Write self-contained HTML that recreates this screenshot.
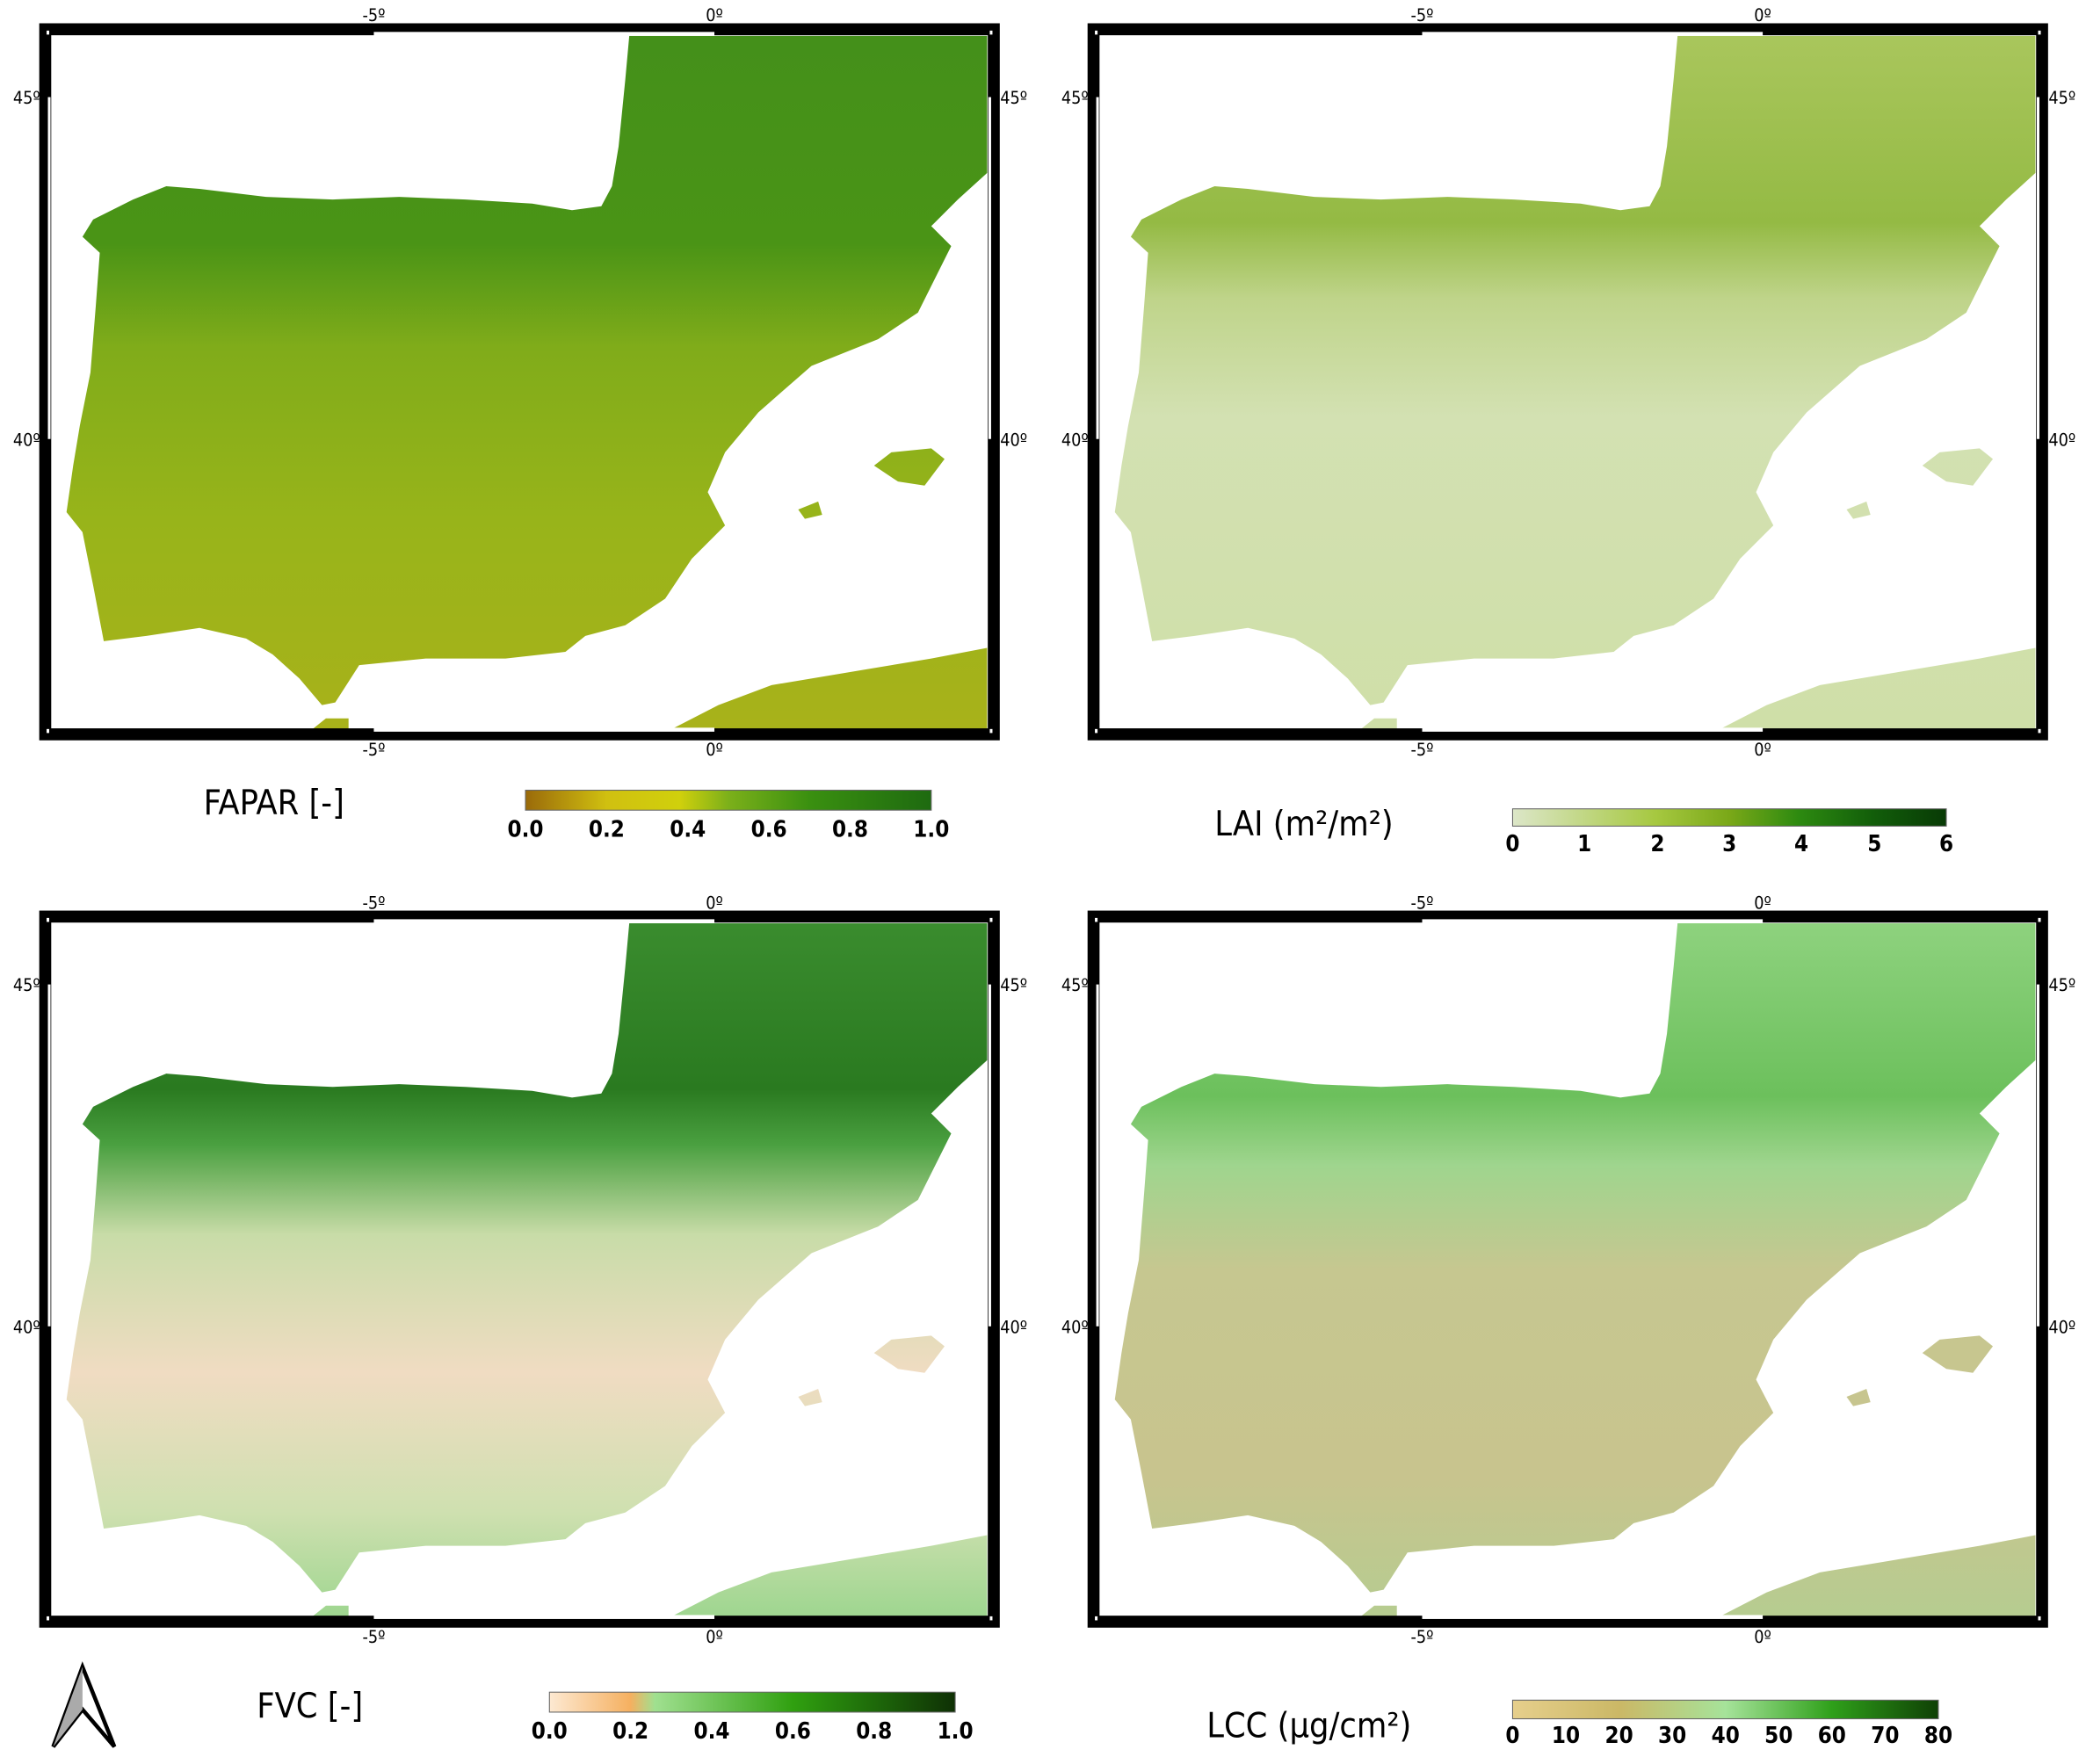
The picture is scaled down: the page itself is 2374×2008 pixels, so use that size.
<!DOCTYPE html>
<html><head><meta charset="utf-8"><style>html,body{margin:0;padding:0;background:#fff}svg{display:block}</style></head>
<body>
<svg xmlns="http://www.w3.org/2000/svg" width="2374" height="2008" viewBox="0 0 1568 1326" preserveAspectRatio="none" font-family="'DejaVu Sans Condensed','DejaVu Sans','Liberation Sans',sans-serif">
<defs>
<g id="land">
<path d="M473,27 L470,60 L465,110 L460,140 L452,155 L430,158 L400,153 L350,150 L300,148 L250,150 L200,148 L150,142 L125,140 L100,150 L70,165 L62,178 L75,190 L72,230 L68,280 L60,320 L55,350 L50,385 L62,400 L70,440 L78,482 L110,478 L150,472 L185,480 L205,492 L225,510 L242,530 L252,528 L270,500 L320,495 L380,495 L425,490 L440,478 L470,470 L500,450 L520,420 L545,395 L532,370 L545,340 L570,310 L610,275 L660,255 L690,235 L705,205 L715,185 L700,170 L720,150 L742,130 L742,27 Z"/>
<path d="M505,548 L540,530 L580,515 L640,505 L700,495 L742,487 L742,548 Z"/>
<path d="M657,350 L670,340 L700,337 L710,345 L695,365 L675,362 Z"/>
<path d="M600,383 L615,377 L618,387 L605,390 Z"/>
<path d="M235,548 L245,540 L262,540 L262,548 Z"/>
</g>
<clipPath id="landclip"><use href="#land"/></clipPath>
<linearGradient id="gFA" x1="0" y1="27" x2="0" y2="547" gradientUnits="userSpaceOnUse">
<stop offset="0" stop-color="#44901a"/><stop offset="0.3" stop-color="#4a9416"/><stop offset="0.45" stop-color="#80ac1a"/><stop offset="0.7" stop-color="#98b41a"/><stop offset="1" stop-color="#a8b21a"/></linearGradient>
<radialGradient id="rFA" cx="390" cy="360" r="110" gradientUnits="userSpaceOnUse"><stop offset="0" stop-color="#a88018" stop-opacity="0.85"/><stop offset="1" stop-color="#a88018" stop-opacity="0"/></radialGradient>
<linearGradient id="gLA" x1="0" y1="27" x2="0" y2="547" gradientUnits="userSpaceOnUse">
<stop offset="0" stop-color="#a9c65c"/><stop offset="0.27" stop-color="#94ba44"/><stop offset="0.38" stop-color="#bfd48a"/><stop offset="0.55" stop-color="#d3e1b2"/><stop offset="1" stop-color="#cfdfa8"/></linearGradient>
<linearGradient id="gFV" x1="0" y1="27" x2="0" y2="547" gradientUnits="userSpaceOnUse">
<stop offset="0" stop-color="#3a8c2e"/><stop offset="0.24" stop-color="#2a7a20"/><stop offset="0.32" stop-color="#4aa040"/><stop offset="0.45" stop-color="#c8dca8"/><stop offset="0.65" stop-color="#f0dcc2"/><stop offset="0.85" stop-color="#cfe0b0"/><stop offset="1" stop-color="#9fd690"/></linearGradient>
<radialGradient id="rFV" cx="700" cy="40" r="120" gradientUnits="userSpaceOnUse"><stop offset="0" stop-color="#1a5010" stop-opacity="0.9"/><stop offset="1" stop-color="#1a5010" stop-opacity="0"/></radialGradient>
<linearGradient id="gLC" x1="0" y1="27" x2="0" y2="547" gradientUnits="userSpaceOnUse">
<stop offset="0" stop-color="#8ed27e"/><stop offset="0.25" stop-color="#6cc05c"/><stop offset="0.35" stop-color="#9fd58e"/><stop offset="0.5" stop-color="#c6c790"/><stop offset="0.8" stop-color="#c8c48e"/><stop offset="1" stop-color="#b6cc90"/></linearGradient>
<linearGradient id="cFA" x1="0" x2="1"><stop offset="0" stop-color="#9a6a0a"/><stop offset="0.2" stop-color="#d0c010"/><stop offset="0.38" stop-color="#d0d00c"/><stop offset="0.5" stop-color="#7cb01a"/><stop offset="0.7" stop-color="#3a9010"/><stop offset="1" stop-color="#1e6a10"/></linearGradient>
<linearGradient id="cLA" x1="0" x2="1"><stop offset="0" stop-color="#dce6c8"/><stop offset="0.33" stop-color="#a6c840"/><stop offset="0.5" stop-color="#7aa818"/><stop offset="0.66" stop-color="#2d8a10"/><stop offset="0.83" stop-color="#125e0a"/><stop offset="1" stop-color="#083a05"/></linearGradient>
<linearGradient id="cFV" x1="0" x2="1"><stop offset="0" stop-color="#fde9d2"/><stop offset="0.2" stop-color="#f5b060"/><stop offset="0.26" stop-color="#a0e090"/><stop offset="0.6" stop-color="#30a010"/><stop offset="0.8" stop-color="#1e6a0a"/><stop offset="1" stop-color="#0f3005"/></linearGradient>
<linearGradient id="cLC" x1="0" x2="1"><stop offset="0" stop-color="#e6cf8c"/><stop offset="0.25" stop-color="#cbb866"/><stop offset="0.5" stop-color="#a6e39a"/><stop offset="0.75" stop-color="#2fa01a"/><stop offset="1" stop-color="#0f4005"/></linearGradient>
<g id="frame">
<rect x="34" y="22" width="713" height="530" fill="none" stroke="#000" stroke-width="9"/>
<rect x="281" y="24" width="256" height="3" fill="#fff"/>
<rect x="281" y="547" width="256" height="3" fill="#fff"/>
<rect x="36" y="73" width="2" height="257" fill="#fff"/>
<rect x="743" y="73" width="2" height="257" fill="#fff"/>
<rect x="35" y="23" width="2" height="3" fill="#fff"/>
<rect x="744" y="23" width="2" height="3" fill="#fff"/>
<rect x="35" y="548" width="2" height="3" fill="#fff"/>
<rect x="744" y="548" width="2" height="3" fill="#fff"/>
<g font-size="13" fill="#000" text-anchor="middle">
<text x="281" y="16">-5º</text><text x="537" y="16">0º</text>
<text x="281" y="568">-5º</text><text x="537" y="568">0º</text>
<text x="20" y="78">45º</text><text x="20" y="335">40º</text>
<text x="762" y="78">45º</text><text x="762" y="335">40º</text>
</g>
</g>
</defs>

<!-- TL FAPAR -->
<use href="#land" fill="url(#gFA)"/>
<g clip-path="url(#landclip)"><rect x="250" y="250" width="300" height="250" fill="url(#rFA)"/><ellipse cx="250" cy="225" rx="60" ry="40" fill="#a8a818" opacity="0.5"/></g>
<use href="#frame"/>
<text x="153" y="612" font-size="26">FAPAR [-]</text>
<rect x="395" y="594" width="305" height="15" fill="url(#cFA)" stroke="#666" stroke-width="0.7"/>
<g font-size="17" font-weight="bold" text-anchor="middle"><text x="395" y="629">0.0</text><text x="456" y="629">0.2</text><text x="517" y="629">0.4</text><text x="578" y="629">0.6</text><text x="639" y="629">0.8</text><text x="700" y="629">1.0</text></g>

<!-- TR LAI -->
<g transform="translate(788,0)">
<use href="#land" fill="url(#gLA)"/>
<g clip-path="url(#landclip)"><ellipse cx="680" cy="140" rx="50" ry="25" fill="#6a9a20" opacity="0.5"/></g>
<use href="#frame"/>
</g>
<text x="913" y="628" font-size="26">LAI (m²/m²)</text>
<rect x="1137" y="608" width="326" height="13" fill="url(#cLA)" stroke="#666" stroke-width="0.7"/>
<g font-size="17" font-weight="bold" text-anchor="middle"><text x="1137" y="640">0</text><text x="1191" y="640">1</text><text x="1246" y="640">2</text><text x="1300" y="640">3</text><text x="1354" y="640">4</text><text x="1409" y="640">5</text><text x="1463" y="640">6</text></g>

<!-- BL FVC -->
<g transform="translate(0,667)">
<use href="#land" fill="url(#gFV)"/>
<g clip-path="url(#landclip)"><rect x="500" y="27" width="242" height="200" fill="url(#rFV)"/><ellipse cx="260" cy="360" rx="90" ry="40" fill="#fff6ee" opacity="0.6"/><ellipse cx="600" cy="520" rx="140" ry="30" fill="#f0dcc2" opacity="0.8"/></g>
<use href="#frame"/>
</g>
<text x="193" y="1291" font-size="26">FVC [-]</text>
<rect x="413" y="1272" width="305" height="15" fill="url(#cFV)" stroke="#666" stroke-width="0.7"/>
<g font-size="17" font-weight="bold" text-anchor="middle"><text x="413" y="1307">0.0</text><text x="474" y="1307">0.2</text><text x="535" y="1307">0.4</text><text x="596" y="1307">0.6</text><text x="657" y="1307">0.8</text><text x="718" y="1307">1.0</text></g>
<path d="M62,1253 L86,1313 L62,1285 L40,1313 Z" fill="#fff" stroke="#000" stroke-width="3" stroke-linejoin="miter"/>
<path d="M62,1253 L62,1285 L40,1313 Z" fill="#aaa"/>

<!-- BR LCC -->
<g transform="translate(788,667)">
<use href="#land" fill="url(#gLC)"/>
<g clip-path="url(#landclip)"><ellipse cx="585" cy="520" rx="150" ry="28" fill="#cfc090" opacity="0.7"/></g>
<use href="#frame"/>
</g>
<text x="907" y="1306" font-size="26">LCC (µg/cm²)</text>
<rect x="1137" y="1278" width="320" height="14" fill="url(#cLC)" stroke="#666" stroke-width="0.7"/>
<g font-size="17" font-weight="bold" text-anchor="middle"><text x="1137" y="1310">0</text><text x="1177" y="1310">10</text><text x="1217" y="1310">20</text><text x="1257" y="1310">30</text><text x="1297" y="1310">40</text><text x="1337" y="1310">50</text><text x="1377" y="1310">60</text><text x="1417" y="1310">70</text><text x="1457" y="1310">80</text></g>
</svg>
</body></html>
